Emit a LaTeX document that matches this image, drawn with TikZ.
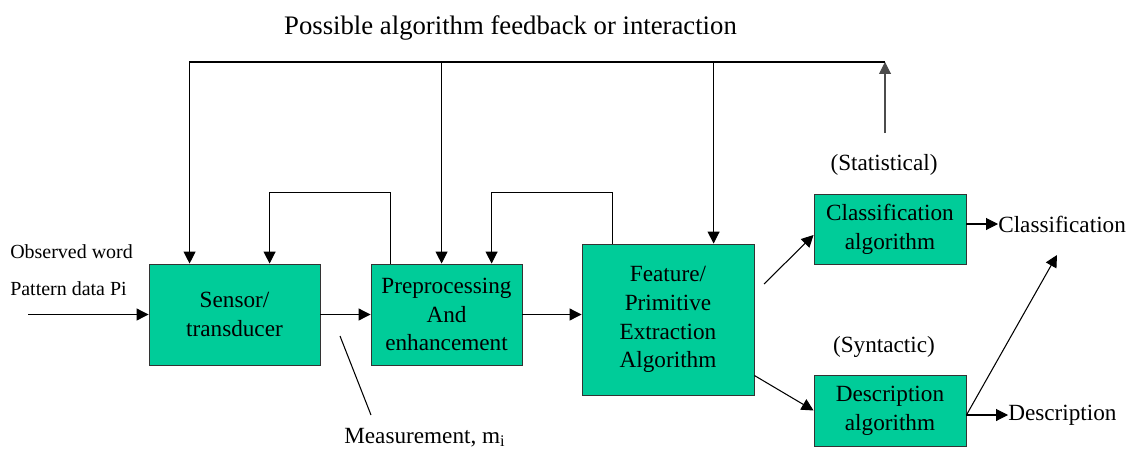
\documentclass[tikz,border=0pt]{standalone}
\usepackage{fontspec}
\setmainfont{Liberation Serif}
\usetikzlibrary{arrows.meta}
\definecolor{boxGreen}{HTML}{00CC99}

\begin{document}
\begin{tikzpicture}[x=0.025cm,y=-0.025cm, >={Triangle[length=8.5pt,width=8.5pt]}]
    \tikzstyle{procbox}=[draw=black!80, fill=boxGreen, line width=0.6pt, align=center,
      inner sep=2pt, font=\fontsize{16.5}{20.5}\selectfont]
    \tikzstyle{lbl}=[inner sep=0pt, font=\fontsize{16.5}{20.5}\selectfont]
    \tikzstyle{smalllbl}=[inner sep=0pt, font=\fontsize{14.2}{17}\selectfont]
    \tikzstyle{conn}=[line width=0.75pt]

    \useasboundingbox (0,0) rectangle (1139,448);

    \node[procbox, minimum width=4.275cm, minimum height=2.525cm] (sensor) at (234.5,314.5) {Sensor/\\transducer};
    \node[procbox, minimum width=3.775cm, minimum height=2.525cm] (prep) at (446.5,314.5) {Preprocessing\\And\\enhancement};
    \node[procbox, minimum width=4.3cm, minimum height=3.775cm] (feat) at (668,319.5) {Feature/\\Primitive\\Extraction\\Algorithm};
    \node[procbox, minimum width=3.8cm, minimum height=1.75cm] (class) at (890,229) {Classification\\algorithm};
    \node[procbox, minimum width=3.8cm, minimum height=1.775cm] (desc) at (890,410.5) {Description\\algorithm};

    \node[lbl] (title) at (510.5,28) {\fontsize{19}{23}\selectfont Possible algorithm feedback or interaction};
    \node[lbl] (stat) at (884,165) {(Statistical)};
    \node[lbl] (synt) at (884,347) {(Syntactic)};
    \node[lbl, anchor=west] (clsout) at (998,224) {Classification};
    \node[lbl, anchor=west] (descout) at (1008,415) {Description};
    \node[lbl, anchor=base west] (meas) at (344,443) {Measurement, m\textsubscript{i}};
    \node[smalllbl, anchor=base west] (obs) at (10,258) {Observed word};
    \node[smalllbl, anchor=base west] (pat) at (10,295) {Pattern data Pi};

    % free ends
    \coordinate (inp) at (28,314.5);
    \coordinate (fbstart) at (885,133);
    \coordinate (fbend) at (885,62);
    \coordinate (mtop) at (340,336);
    \coordinate (mbot) at (371,415);
    \coordinate (fc) at (764,284);
    \coordinate (up) at (1057,255);

    % taps on the box tops
    \coordinate (sin1) at ([xshift=1.025cm]sensor.north west);
    \coordinate (sin2) at ([xshift=3.025cm]sensor.north west);
    \coordinate (pout) at ([xshift=0.5cm]prep.north west);
    \coordinate (pin1) at ([xshift=1.775cm]prep.north west);
    \coordinate (pin2) at ([xshift=3.025cm]prep.north west);
    \coordinate (fout) at ([xshift=0.775cm]feat.north west);
    \coordinate (fin) at ([xshift=3.3cm]feat.north west);

    \draw[conn,->] (inp) -- (sensor.west);
    \draw[conn,->] (sensor.east) -- (prep.west);
    \draw[conn,->] (prep.east) -- (prep.east -| feat.west);
    \draw[conn,->] (fc) -- ([yshift=-0.15cm]class.west);
    \draw[conn,->] ([yshift=-1.4cm]feat.east) -- (desc.west);
    \draw[conn,->] (class.east |- clsout.west) -- (clsout.west);
    \draw[conn,->] (desc.east |- descout.west) -- (descout.west);
    \draw[conn,->] (desc.east |- descout.west) -- (up);
    \draw[conn] (mtop) -- (mbot);

    % feedback paths
    \draw[conn,->, draw=black!70] (fbstart) -- (fbend);
    \draw[conn,->] (fbend) -| (sin1);
    \draw[conn,->] (fbend -| pin1) -- (pin1);
    \draw[conn,->] (fbend -| fin) -- (fin);
    \draw[conn,->] (pout) -- ++(0,1.775cm) -| (sin2);
    \draw[conn,->] (fout) -- ++(0,1.275cm) -| (pin2);
\end{tikzpicture}
\end{document}
